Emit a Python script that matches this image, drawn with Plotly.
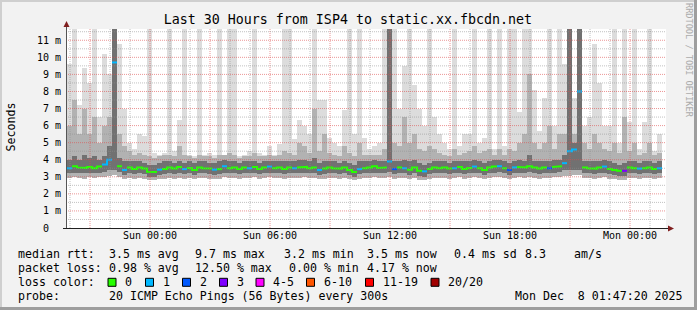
import plotly.graph_objects as go

# ---------------- data ----------------
# time axis: hours relative to "Sun 00:00"; one slot = 15 minutes
t_start = -4.15
step = 0.25

median = [3.50, 3.62, 3.55, 3.52, 3.58, 3.50, 3.60, 3.72, 4.00, 9.70,
          3.62, 3.40, 3.55, 3.45, 3.55, 3.48, 3.30, 3.28, 3.42, 3.45,
          3.55, 3.48, 3.58, 3.45, 3.52, 3.40, 3.55, 3.50, 3.48, 3.42,
          3.45, 3.62, 3.50, 3.55, 3.45, 3.55, 3.50, 3.58, 3.45, 3.55,
          3.60, 3.50, 3.55, 3.45, 3.55, 3.50, 3.55, 3.58, 3.50, 3.55,
          3.40, 3.48, 3.55, 3.50, 3.48, 3.55, 3.40, 3.28, 3.45, 3.50,
          3.55, 3.62, 3.52, 3.55, 3.90, 3.45, 3.55, 3.50, 3.42, 3.55,
          3.35, 3.32, 3.45, 3.55, 3.50, 3.55, 3.48, 3.50, 3.58, 3.45,
          3.52, 3.60, 3.50, 3.40, 3.55, 3.60, 3.62, 3.50, 3.40, 3.55,
          3.58, 3.55, 3.62, 3.55, 3.48, 3.55, 3.50, 3.58, 3.62, 3.80,
          4.50, 4.60, 8.00, 3.55, 3.50, 3.48, 3.55, 3.60, 3.45, 3.40,
          3.35, 3.35, 3.55, 3.50, 3.48, 3.50, 3.55, 3.45, 3.50]

loss = [1, 0, 0, 0, 0, 0, 0, 1, 1, 1,
        0, 1, 0, 0, 0, 0, 0, 0, 1, 0,
        0, 0, 0, 1, 0, 0, 0, 0, 0, 1,
        0, 1, 0, 0, 0, 0, 1, 0, 0, 0,
        1, 0, 0, 0, 0, 1, 0, 0, 0, 0,
        1, 0, 0, 0, 0, 0, 0, 0, 1, 0,
        0, 0, 0, 0, 1, 2, 0, 1, 0, 0,
        0, 1, 0, 0, 0, 0, 0, 1, 0, 0,
        0, 1, 0, 0, 0, 0, 1, 0, 2, 1,
        0, 0, 0, 0, 0, 0, 2, 0, 0, 1,
        1, 1, 1, 0, 0, 0, 0, 1, 0, 0,
        0, 3, 0, 0, 1, 0, 0, 0, 1]

p_min = [2.95, 3.0, 2.95, 2.9, 3.0, 2.95, 3.0, 3.0, 3.05, 3.1,
         3.0, 2.85, 2.95, 2.9, 2.95, 2.9, 2.8, 2.8, 2.85, 2.9,
         2.95, 2.9, 2.95, 2.9, 2.95, 2.85, 2.95, 2.95, 2.9, 2.85,
         2.9, 3.0, 2.95, 2.95, 2.9, 2.95, 2.95, 3.0, 2.9, 2.95,
         3.0, 2.95, 2.95, 2.9, 2.95, 2.95, 2.95, 3.0, 2.95, 2.95,
         2.85, 2.9, 2.95, 2.95, 2.9, 2.95, 2.85, 2.8, 2.9, 2.95,
         2.95, 3.0, 2.95, 2.95, 3.0, 2.9, 2.95, 2.95, 2.85, 2.95,
         2.8, 2.8, 2.9, 2.95, 2.95, 2.95, 2.9, 2.95, 3.0, 2.9,
         2.95, 3.0, 2.95, 2.85, 2.95, 3.0, 3.0, 2.95, 2.85, 2.95,
         3.0, 2.95, 3.0, 2.95, 2.9, 2.95, 2.95, 3.0, 3.0, 3.05,
         3.05, 3.1, 3.1, 2.95, 2.95, 2.9, 2.95, 3.0, 2.9, 2.85,
         2.8, 2.8, 2.95, 2.95, 2.9, 2.95, 2.95, 2.9, 2.95]

q1 = [3.2, 3.25, 3.2, 3.2, 3.25, 3.2, 3.25, 3.3, 3.4, 3.4,
      3.3, 3.1, 3.2, 3.15, 3.2, 3.15, 3.0, 3.0, 3.1, 3.15,
      3.2, 3.15, 3.2, 3.15, 3.2, 3.1, 3.2, 3.2, 3.15, 3.1,
      3.15, 3.25, 3.2, 3.2, 3.15, 3.2, 3.2, 3.25, 3.15, 3.2,
      3.25, 3.2, 3.2, 3.15, 3.2, 3.2, 3.2, 3.25, 3.2, 3.2,
      3.1, 3.15, 3.2, 3.2, 3.15, 3.2, 3.1, 3.0, 3.15, 3.2,
      3.2, 3.25, 3.2, 3.2, 3.3, 3.15, 3.2, 3.2, 3.1, 3.2,
      3.05, 3.0, 3.15, 3.2, 3.2, 3.2, 3.15, 3.2, 3.25, 3.15,
      3.2, 3.25, 3.2, 3.1, 3.2, 3.25, 3.3, 3.2, 3.1, 3.2,
      3.25, 3.2, 3.3, 3.2, 3.15, 3.2, 3.2, 3.25, 3.3, 3.4,
      3.4, 3.4, 3.4, 3.2, 3.2, 3.15, 3.2, 3.25, 3.15, 3.1,
      3.05, 3.05, 3.2, 3.2, 3.15, 3.2, 3.2, 3.15, 3.2]

q3 = [4.0, 4.2, 4.0, 4.3, 4.1, 4.2, 4.0, 4.2, 4.8, 12,
      4.1, 3.9, 3.9, 3.9, 3.9, 3.8, 3.7, 3.7, 3.8, 3.9,
      3.9, 3.8, 3.9, 3.8, 3.9, 3.8, 3.9, 3.9, 3.8, 3.8,
      3.9, 4.0, 3.9, 3.9, 3.8, 3.9, 3.9, 3.9, 3.8, 3.9,
      3.9, 3.9, 3.9, 3.9, 3.9, 3.9, 4.0, 4.0, 3.9, 4.1,
      3.8, 3.9, 3.9, 3.9, 3.8, 3.9, 3.8, 3.7, 3.9, 3.9,
      3.9, 4.0, 3.9, 3.9, 12, 3.9, 3.9, 4.0, 3.9, 4.0,
      3.8, 3.7, 3.8, 3.9, 3.9, 3.9, 3.8, 3.9, 3.9, 3.9,
      3.9, 4.0, 3.9, 3.8, 3.9, 4.0, 4.0, 3.9, 3.8, 3.9,
      4.0, 3.9, 4.3, 3.9, 3.9, 3.9, 3.9, 4.0, 4.0, 4.3,
      12, 5.0, 12, 3.9, 3.9, 3.9, 3.9, 4.0, 3.9, 3.8,
      3.7, 3.8, 3.9, 3.9, 3.8, 3.9, 3.9, 3.8, 3.9]

p90 = [6.0, 7.5, 5.5, 7.0, 5.5, 6.5, 5.0, 6.0, 6.5, 12,
       5.5, 4.8, 4.5, 4.3, 4.4, 4.3, 4.2, 4.1, 4.2, 4.3,
       4.3, 4.2, 4.8, 4.3, 4.2, 4.1, 4.3, 4.2, 4.2, 4.1,
       4.3, 4.3, 4.4, 4.3, 4.1, 4.2, 4.2, 4.4, 4.2, 4.2,
       4.3, 4.2, 4.3, 4.5, 4.4, 4.3, 5.0, 4.8, 4.4, 7.0,
       4.5, 5.5, 4.4, 4.3, 4.2, 4.8, 4.4, 4.2, 5.0, 4.3,
       4.3, 4.3, 4.3, 4.6, 12, 5.0, 4.8, 6.5, 5.0, 5.5,
       4.6, 4.5, 4.8, 4.6, 4.4, 4.3, 4.2, 4.6, 4.3, 4.4,
       4.5, 4.8, 4.4, 4.5, 4.6, 4.3, 4.6, 4.3, 4.6, 4.5,
       5.0, 5.5, 9.0, 5.0, 4.6, 5.0, 6.0, 4.6, 5.5, 5.5,
       12, 5.5, 12, 5.0, 4.6, 5.5, 5.0, 4.6, 4.5, 5.0,
       4.4, 6.5, 4.5, 5.0, 4.3, 4.4, 5.0, 4.3, 4.4]

p_max = [9.6, 12, 7.2, 9.4, 8.5, 12, 6.5, 10.2, 9.0, 12,
         10.8, 7.0, 5.0, 4.6, 5.5, 5.4, 12, 4.4, 4.3, 4.4,
         12, 4.5, 6.3, 12, 4.3, 4.2, 12, 4.3, 4.4, 4.3,
         12, 4.3, 12, 12, 4.2, 4.3, 4.5, 12, 4.4, 4.3,
         4.8, 4.3, 4.9, 12, 12, 5.2, 6.3, 6.0, 5.5, 12,
         7.5, 7.5, 5.3, 5.0, 4.8, 6.9, 12, 5.5, 12, 5.3,
         4.6, 4.8, 5.0, 12, 12, 12, 7.0, 9.5, 12, 8.4,
         7.0, 6.0, 12, 6.5, 5.5, 5.0, 4.6, 12, 4.8, 5.5,
         5.5, 12, 5.0, 5.3, 12, 4.6, 12, 4.8, 12, 12,
         6.8, 12, 12, 8.1, 5.7, 7.6, 12, 6.0, 12, 9.6,
         12, 7.6, 12, 6.0, 6.5, 10.8, 8.5, 6.0, 6.0, 12,
         5.0, 12, 6.2, 12, 4.6, 6.2, 12, 4.5, 5.5]

x_tick_vals = [0, 6, 12, 18, 24]
x_tick_text = ["Sun 00:00", "Sun 06:00", "Sun 12:00", "Sun 18:00", "Mon 00:00"]
y_tick_vals = list(range(12))
y_tick_text = ["0\u00a0\u00a0"] + [f"{v} m" for v in range(1, 12)]

loss_bins = [(0, 0, "0"), (1, 1, "1"), (2, 2, "2"), (3, 3, "3"), (4, 5, "4-5"),
             (6, 10, "6-10"), (11, 19, "11-19"), (20, 20, "20/20")]

title_text = "Last 30 Hours from ISP4 to static.xx.fbcdn.net"
rtt_stats = ["3.5 ms avg", "9.7 ms max", "3.2 ms min", "3.5 ms now", "0.4 ms sd", "8.3", "am/s"]
loss_stats = ["0.98 % avg", "12.50 % max", "0.00 % min", "4.17 % now"]
probe_text = "20 ICMP Echo Pings (56 Bytes) every 300s"
stamp_text = "Mon Dec\u00a0\u00a08 01:47:20 2025"

# ---------------- styles ----------------
W, H = 697, 310
ML, MR, MT, MB = 66, 31, 29, 82
PW, PH = W - ML - MR, H - MT - MB
X_RANGE = [-4.2, 25.8]
Y_RANGE = [0, 11.66]
MONO = "DejaVu Sans Mono"
loss_colors = ["#26ff00", "#00b8ff", "#0059ff", "#7e00ff", "#ff00ff", "#ff5500", "#ff0000", "#a10000"]
JOIN_MAX = 0.5  # join neighbouring steps of one colour only for small jumps


def PX(x):
    return (x - ML) / PW


def PY(y):
    return (MT + PH - y) / PH


n = len(median)
xc = [t_start + step * (i + 0.5) for i in range(n)]

fig = go.Figure()


def smoke(base, top, color):
    fig.add_trace(go.Bar(x=xc, y=[t - b for t, b in zip(top, base)], base=base, width=step,
                         marker=dict(color=color, line=dict(width=0)),
                         hoverinfo="skip", showlegend=False))


smoke(p_min, p_max, "#DCDCDC")
smoke(p_min, p90, "#B2B2B2")
smoke(q1, q3, "#717171")

# median line, coloured by loss bucket
for (lo, hi, _), col in zip(loss_bins, loss_colors):
    xs, ys = [], []
    prev = None
    for i in range(n):
        if lo <= loss[i] <= hi:
            x0 = t_start + step * i
            if prev is not None and (prev != i - 1 or abs(median[i] - median[prev]) > JOIN_MAX):
                xs.append(None)
                ys.append(None)
            xs += [x0, x0 + step]
            ys += [median[i], median[i]]
            prev = i
    if xs:
        fig.add_trace(go.Scatter(x=xs, y=ys, mode="lines", line=dict(color=col, width=2),
                                 hoverinfo="skip", showlegend=False))

shapes = []
# grid (drawn over the smoke, as rrdtool does)
for h in range(-4, 26):
    major = h % 3 == 0
    shapes.append(dict(type="line", xref="x", yref="paper", x0=h, x1=h, y0=0, y1=1, layer="above",
                       line=dict(color="rgba(222,79,79,0.6)" if major else "rgba(143,143,143,0.55)",
                                 width=1, dash="1px,1px")))
for k in range(1, 24):
    v = k / 2
    major = k % 2 == 0
    shapes.append(dict(type="line", xref="paper", yref="y", x0=0, x1=1, y0=v, y1=v, layer="above",
                       line=dict(color="rgba(222,79,79,0.6)" if major else "rgba(143,143,143,0.55)",
                                 width=1, dash="1px,1px")))
# axes
shapes.append(dict(type="line", xref="paper", yref="paper", x0=PX(66.5), x1=PX(66.5), y0=PY(228), y1=PY(25),
                   line=dict(color="#555555", width=1), layer="above"))
shapes.append(dict(type="line", xref="paper", yref="paper", x0=PX(63), x1=PX(670), y0=PY(228.5), y1=PY(228.5),
                   line=dict(color="#1F1F1F", width=1), layer="above"))
# arrows
shapes.append(dict(type="path", xref="paper", yref="paper",
                   path=f"M {PX(66.5)} {PY(21)} L {PX(63.5)} {PY(27)} L {PX(69.5)} {PY(27)} Z",
                   fillcolor="#801F1F", line=dict(width=0), layer="above"))
shapes.append(dict(type="path", xref="paper", yref="paper",
                   path=f"M {PX(674)} {PY(228.5)} L {PX(668)} {PY(225.5)} L {PX(668)} {PY(231.5)} Z",
                   fillcolor="#801F1F", line=dict(width=0), layer="above"))
# frame shading
shapes.append(dict(type="rect", xref="paper", yref="paper", x0=PX(0), x1=PX(W), y0=PY(0), y1=PY(2),
                   fillcolor="#CFCFCF", line=dict(width=0)))
shapes.append(dict(type="rect", xref="paper", yref="paper", x0=PX(0), x1=PX(2), y0=PY(0), y1=PY(H),
                   fillcolor="#CFCFCF", line=dict(width=0)))
shapes.append(dict(type="rect", xref="paper", yref="paper", x0=PX(0), x1=PX(W), y0=PY(H - 3), y1=PY(H),
                   fillcolor="#9E9E9E", line=dict(width=0)))
shapes.append(dict(type="rect", xref="paper", yref="paper", x0=PX(W - 3), x1=PX(W), y0=PY(0), y1=PY(H),
                   fillcolor="#9E9E9E", line=dict(width=0)))

annotations = []


def txt(s, x, y, size=11.6, color="#000000", anchor="left", angle=0):
    annotations.append(dict(text=s, x=PX(x), y=PY(y), xref="paper", yref="paper", showarrow=False,
                            xanchor=anchor, yanchor="middle", textangle=angle,
                            font=dict(family=MONO, size=size, color=color)))


# legend rows
row_y = [254.3, 268.3, 282.3, 296]
txt("median rtt:", 16, row_y[0])
for s, x in zip(rtt_stats, [107.3, 193.3, 281.7, 365, 451.7, 523.3, 571.7]):
    txt(s, x, row_y[0])
txt("packet loss:", 16, row_y[1])
for s, x in zip(loss_stats, [107.3, 193.0, 287.0, 365]):
    txt(s, x, row_y[1])
txt("loss color:", 16, row_y[2])
box_x = [108, 145.5, 182.5, 219.5, 256, 306.5, 365.5, 431]
for (lo, hi, label), col, bx in zip(loss_bins, loss_colors, box_x):
    shapes.append(dict(type="rect", xref="paper", yref="paper", x0=PX(bx), x1=PX(bx + 8),
                       y0=PY(row_y[2] + 4), y1=PY(row_y[2] - 4), fillcolor=col,
                       line=dict(color="#000000", width=1)))
    txt(label, bx + 15, row_y[2])
txt("probe:", 16, row_y[3])
txt(probe_text, 107.3, row_y[3])
txt(stamp_text, 513.3, row_y[3])

# y axis title and watermark
txt("Seconds", 10, 127.5, size=11.6, anchor="center", angle=-90)
txt("RRDTOOL / TOBI OETIKER", 689, 60, size=8.6, color="#ABABAB", anchor="center", angle=90)

fig.update_layout(
    width=W, height=H,
    margin=dict(l=ML, r=MR, t=MT, b=MB, pad=0),
    paper_bgcolor="#F2F2F2", plot_bgcolor="#FFFFFF",
    barmode="overlay", bargap=0,
    showlegend=False,
    title=dict(text=title_text, x=347.9 / W, xanchor="center", y=1 - 19 / H, yanchor="middle",
               font=dict(family=MONO, size=13.3, color="#000000")),
    xaxis=dict(range=X_RANGE, showgrid=False, zeroline=False, showline=False, ticks="",
               tickvals=x_tick_vals, ticktext=x_tick_text, tickfont=dict(family=MONO, size=10, color="#000000"),
               fixedrange=True),
    yaxis=dict(range=Y_RANGE, showgrid=False, zeroline=False, showline=False, ticks="",
               tickvals=y_tick_vals, ticktext=y_tick_text, tickfont=dict(family=MONO, size=10, color="#000000"),
               ticklabelstandoff=4, fixedrange=True),
    shapes=shapes,
    annotations=annotations,
)

fig.write_html("out.html", config={"displayModeBar": False})
